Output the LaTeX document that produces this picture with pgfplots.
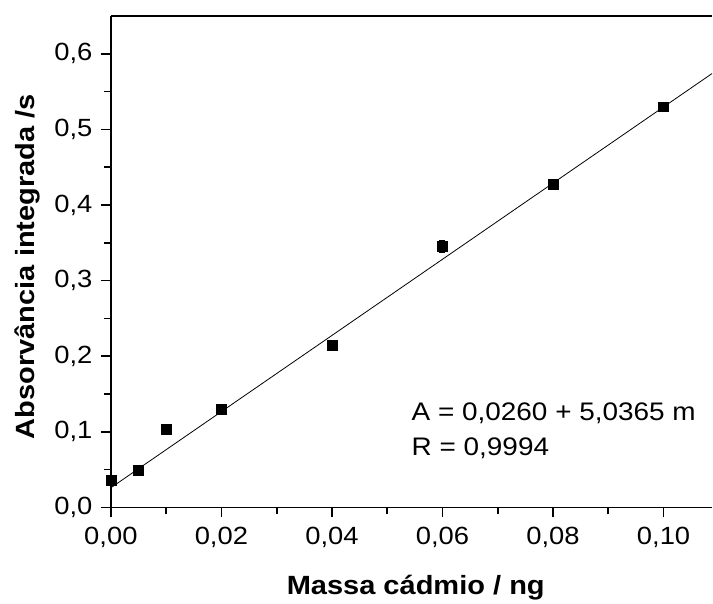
\documentclass[border=0pt]{standalone}
\usepackage{fontspec}
\setmainfont[FakeStretch=1.1]{Liberation Sans}
\usepackage{pgfplots}
\pgfplotsset{compat=1.18}

\begin{document}
\begin{tikzpicture}
\begin{axis}[
    width=602bp, height=492bp,
    scale only axis,
    font=\fontsize{25}{29}\selectfont,
    xmin=0, xmax=0.1088,
    ymin=0, ymax=0.65,
    axis x line*=bottom,
    axis y line*=left,
    axis line style={line width=1.6pt},
    xtick={0,0.02,...,0.1},
    ytick={0,0.1,...,0.6},
    minor x tick num=1,
    minor y tick num=1,
    xtick align=outside,
    ytick align=outside,
    major tick length=10bp,
    minor tick length=7bp,
    xtick style={black, line width=1.7pt},
    ytick style={black, line width=1.7pt},
    xticklabel style={yshift=-6bp, /pgf/number format/.cd, fixed, fixed zerofill, precision=2, use comma, assume math mode=true},
    yticklabel style={xshift=-5bp, /pgf/number format/.cd, fixed, fixed zerofill, precision=1, use comma, assume math mode=true},
    xlabel={\bfseries Massa cádmio / ng},
    ylabel={\bfseries Absorvância integrada /s},
    label style={font=\fontsize{26.5}{31}\selectfont},
    xlabel style={at={(axis description cs:0.507,-0.1768)}, anchor=base},
    ylabel style={at={(axis description cs:-0.1262,0.49)}, anchor=base},
]
\addplot[black, mark=square*, mark size=5bp, only marks,
    error bars/.cd, y dir=both, y explicit,
    error bar style={line width=1pt},
    error mark options={rotate=90, mark size=3bp, line width=1pt}]
  coordinates {
    (0,0.036) +- (0,0.003)
    (0.005,0.0487) +- (0,0.003)
    (0.01,0.104) +- (0,0.003)
    (0.02,0.130) +- (0,0.005)
    (0.04,0.214) +- (0,0.007)
    (0.06,0.345) +- (0,0.008)
    (0.08,0.428) +- (0,0.004)
    (0.10,0.530) +- (0,0.004)
  };
\addplot[black, line width=0.8pt] coordinates {(0,0.0260) (0.1088,0.5740)};
\draw[line width=1.6pt] (rel axis cs:0,1) -- (rel axis cs:1,1);
\node[anchor=base west, inner sep=0pt, font=\fontsize{25.5}{30}\selectfont] at (axis cs:0.0544,0.1145) {A = 0,0260 + 5,0365 m};
\node[anchor=base west, inner sep=0pt, font=\fontsize{25.5}{30}\selectfont] at (axis cs:0.0544,0.0684) {R = 0,9994};
\end{axis}
\path ([shift={(-111bp,-91bp)}]current axis.south west) rectangle ([shift={(0,16bp)}]current axis.north east);
\end{tikzpicture}
\end{document}
